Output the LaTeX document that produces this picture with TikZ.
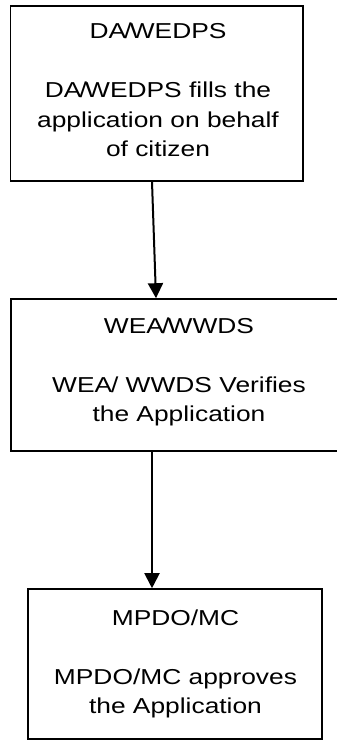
\documentclass[tikz,border=0pt]{standalone}
\usepackage{fontspec}
\setmainfont{Liberation Sans}
\usetikzlibrary{arrows.meta}
\newcommand{\wide}[1]{\scalebox{1.22}[1]{#1}}
\newcommand{\aslw}{A\kern-1.5pt/\kern-1.5pt W}
\tikzset{
  box/.style={draw=black, line width=1.6pt, rectangle, inner sep=0pt, fill=none},
  txt/.style={anchor=base, inner sep=0pt, font=\fontsize{21.6}{29.5}\selectfont},
  arr/.style={line width=2pt, -{Triangle[length=15pt,width=15pt]}}
}
\begin{document}
\begin{tikzpicture}[x=1pt,y=-1pt]
\useasboundingbox (0,0) rectangle (337,741);
\clip (0,0) rectangle (337,741);
\fill[white] (0,0) rectangle (337,741);
\node[box, minimum width=292.5pt, minimum height=175pt] (b1) at (156.75,93.5) {};
\node[box, minimum width=336.3pt, minimum height=152pt] (b2) at (178.85,375) {};
\node[box, minimum width=294pt, minimum height=150pt] (b3) at (175,664) {};
\node[txt] (t1) at (158,39) {\wide{\begin{tabular}[t]{@{}c@{}}D\aslw EDPS\\ \\D\aslw EDPS fills the\\application on behalf\\of citizen\end{tabular}}};
\node[txt] (t2) at (179,333.3) {\wide{\begin{tabular}[t]{@{}c@{}}WE\aslw WDS\\ \\WEA\kern-1pt/ WWDS Verifies\\the Application\end{tabular}}};
\node[txt] (t3) at (175.5,625) {\wide{\begin{tabular}[t]{@{}c@{}}MPDO/MC\\ \\MPDO/MC approves\\the Application\end{tabular}}};
\draw[arr] ([xshift=-4.75pt]b1.south) -- ([xshift=-22.85pt]b2.north);
\draw[arr] ([xshift=-26.85pt]b2.south) -- ([xshift=-23pt]b3.north);
\end{tikzpicture}
\end{document}
